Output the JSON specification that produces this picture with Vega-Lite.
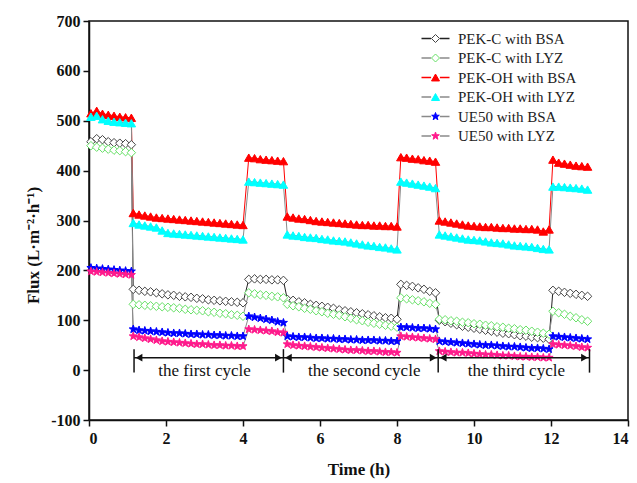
{
"$schema":"https://vega.github.io/schema/vega-lite/v6.json",
"width":539,"height":399,"autosize":"none",
"padding":{"left":89,"top":21,"right":9,"bottom":63},
"background":"white",
"config":{"view":{"stroke":"#111","strokeWidth":1.5},"font":"Liberation Serif"},
"datasets":{
"flux":[
{"s":"a","t":0.05,"f":458},{"s":"a","t":0.2,"f":464},{"s":"a","t":0.35,"f":462},{"s":"a","t":0.5,"f":458},{"s":"a","t":0.65,"f":456},{"s":"a","t":0.8,"f":455},{"s":"a","t":0.95,"f":454},{"s":"a","t":1.1,"f":452},
{"s":"a","t":1.15,"f":162},{"s":"a","t":1.3,"f":160},{"s":"a","t":1.45,"f":158},{"s":"a","t":1.6,"f":157},{"s":"a","t":1.75,"f":155},{"s":"a","t":1.9,"f":153},{"s":"a","t":2.05,"f":151},{"s":"a","t":2.2,"f":150},{"s":"a","t":2.35,"f":148},{"s":"a","t":2.5,"f":147},{"s":"a","t":2.65,"f":146},{"s":"a","t":2.8,"f":144},{"s":"a","t":2.95,"f":143},{"s":"a","t":3.1,"f":141},{"s":"a","t":3.25,"f":140},{"s":"a","t":3.4,"f":139},{"s":"a","t":3.55,"f":138},{"s":"a","t":3.7,"f":137},{"s":"a","t":3.85,"f":136},{"s":"a","t":4.0,"f":135},
{"s":"a","t":4.15,"f":182},{"s":"a","t":4.3,"f":183},{"s":"a","t":4.45,"f":182},{"s":"a","t":4.6,"f":182},{"s":"a","t":4.75,"f":181},{"s":"a","t":4.9,"f":181},{"s":"a","t":5.05,"f":180},
{"s":"a","t":5.15,"f":142},{"s":"a","t":5.3,"f":140},{"s":"a","t":5.45,"f":137},{"s":"a","t":5.6,"f":135},{"s":"a","t":5.75,"f":132},{"s":"a","t":5.9,"f":130},{"s":"a","t":6.05,"f":128},{"s":"a","t":6.2,"f":126},{"s":"a","t":6.35,"f":124},{"s":"a","t":6.5,"f":121},{"s":"a","t":6.65,"f":119},{"s":"a","t":6.8,"f":117},{"s":"a","t":6.95,"f":115},{"s":"a","t":7.1,"f":113},{"s":"a","t":7.25,"f":111},{"s":"a","t":7.4,"f":109},{"s":"a","t":7.55,"f":107},{"s":"a","t":7.7,"f":105},{"s":"a","t":7.85,"f":104},{"s":"a","t":8.0,"f":102},
{"s":"a","t":8.1,"f":172},{"s":"a","t":8.25,"f":170},{"s":"a","t":8.4,"f":168},{"s":"a","t":8.55,"f":165},{"s":"a","t":8.7,"f":162},{"s":"a","t":8.85,"f":158},{"s":"a","t":9.0,"f":155},
{"s":"a","t":9.1,"f":100},{"s":"a","t":9.25,"f":97},{"s":"a","t":9.4,"f":94},{"s":"a","t":9.55,"f":91},{"s":"a","t":9.7,"f":88},{"s":"a","t":9.85,"f":86},{"s":"a","t":10.0,"f":84},{"s":"a","t":10.15,"f":82},{"s":"a","t":10.3,"f":80},{"s":"a","t":10.45,"f":78},{"s":"a","t":10.6,"f":76},{"s":"a","t":10.75,"f":74},{"s":"a","t":10.9,"f":73},{"s":"a","t":11.05,"f":71},{"s":"a","t":11.2,"f":69},{"s":"a","t":11.35,"f":68},{"s":"a","t":11.5,"f":66},{"s":"a","t":11.65,"f":65},{"s":"a","t":11.8,"f":64},{"s":"a","t":11.95,"f":62},
{"s":"a","t":12.05,"f":160},{"s":"a","t":12.2,"f":158},{"s":"a","t":12.35,"f":156},{"s":"a","t":12.5,"f":154},{"s":"a","t":12.65,"f":152},{"s":"a","t":12.8,"f":150},{"s":"a","t":12.95,"f":148},

{"s":"b","t":0.05,"f":450},{"s":"b","t":0.2,"f":447},{"s":"b","t":0.35,"f":445},{"s":"b","t":0.5,"f":443},{"s":"b","t":0.65,"f":441},{"s":"b","t":0.8,"f":440},{"s":"b","t":0.95,"f":438},{"s":"b","t":1.1,"f":436},
{"s":"b","t":1.15,"f":132},{"s":"b","t":1.3,"f":131},{"s":"b","t":1.45,"f":130},{"s":"b","t":1.6,"f":129},{"s":"b","t":1.75,"f":128},{"s":"b","t":1.9,"f":127},{"s":"b","t":2.05,"f":126},{"s":"b","t":2.2,"f":125},{"s":"b","t":2.35,"f":124},{"s":"b","t":2.5,"f":122},{"s":"b","t":2.65,"f":121},{"s":"b","t":2.8,"f":120},{"s":"b","t":2.95,"f":119},{"s":"b","t":3.1,"f":117},{"s":"b","t":3.25,"f":116},{"s":"b","t":3.4,"f":114},{"s":"b","t":3.55,"f":113},{"s":"b","t":3.7,"f":111},{"s":"b","t":3.85,"f":110},{"s":"b","t":4.0,"f":108},
{"s":"b","t":4.15,"f":155},{"s":"b","t":4.3,"f":153},{"s":"b","t":4.45,"f":151},{"s":"b","t":4.6,"f":150},{"s":"b","t":4.75,"f":148},{"s":"b","t":4.9,"f":147},{"s":"b","t":5.05,"f":145},
{"s":"b","t":5.15,"f":132},{"s":"b","t":5.3,"f":129},{"s":"b","t":5.45,"f":127},{"s":"b","t":5.6,"f":124},{"s":"b","t":5.75,"f":122},{"s":"b","t":5.9,"f":119},{"s":"b","t":6.05,"f":117},{"s":"b","t":6.2,"f":114},{"s":"b","t":6.35,"f":112},{"s":"b","t":6.5,"f":110},{"s":"b","t":6.65,"f":107},{"s":"b","t":6.8,"f":104},{"s":"b","t":6.95,"f":101},{"s":"b","t":7.1,"f":99},{"s":"b","t":7.25,"f":96},{"s":"b","t":7.4,"f":94},{"s":"b","t":7.55,"f":92},{"s":"b","t":7.7,"f":90},{"s":"b","t":7.85,"f":88},{"s":"b","t":8.0,"f":86},
{"s":"b","t":8.1,"f":145},{"s":"b","t":8.25,"f":143},{"s":"b","t":8.4,"f":141},{"s":"b","t":8.55,"f":139},{"s":"b","t":8.7,"f":137},{"s":"b","t":8.85,"f":134},{"s":"b","t":9.0,"f":132},
{"s":"b","t":9.1,"f":102},{"s":"b","t":9.25,"f":101},{"s":"b","t":9.4,"f":99},{"s":"b","t":9.55,"f":98},{"s":"b","t":9.7,"f":96},{"s":"b","t":9.85,"f":95},{"s":"b","t":10.0,"f":93},{"s":"b","t":10.15,"f":92},{"s":"b","t":10.3,"f":90},{"s":"b","t":10.45,"f":89},{"s":"b","t":10.6,"f":87},{"s":"b","t":10.75,"f":86},{"s":"b","t":10.9,"f":84},{"s":"b","t":11.05,"f":83},{"s":"b","t":11.2,"f":81},{"s":"b","t":11.35,"f":80},{"s":"b","t":11.5,"f":78},{"s":"b","t":11.65,"f":76},{"s":"b","t":11.8,"f":74},{"s":"b","t":11.95,"f":72},
{"s":"b","t":12.05,"f":118},{"s":"b","t":12.2,"f":115},{"s":"b","t":12.35,"f":112},{"s":"b","t":12.5,"f":108},{"s":"b","t":12.65,"f":105},{"s":"b","t":12.8,"f":101},{"s":"b","t":12.95,"f":98},

{"s":"c","t":0.05,"f":515},{"s":"c","t":0.2,"f":520},{"s":"c","t":0.35,"f":514},{"s":"c","t":0.5,"f":512},{"s":"c","t":0.65,"f":510},{"s":"c","t":0.8,"f":508},{"s":"c","t":0.95,"f":507},{"s":"c","t":1.1,"f":506},
{"s":"c","t":1.15,"f":315},{"s":"c","t":1.3,"f":312},{"s":"c","t":1.45,"f":310},{"s":"c","t":1.6,"f":308},{"s":"c","t":1.75,"f":306},{"s":"c","t":1.9,"f":305},{"s":"c","t":2.05,"f":304},{"s":"c","t":2.2,"f":303},{"s":"c","t":2.35,"f":302},{"s":"c","t":2.5,"f":301},{"s":"c","t":2.65,"f":300},{"s":"c","t":2.8,"f":299},{"s":"c","t":2.95,"f":298},{"s":"c","t":3.1,"f":297},{"s":"c","t":3.25,"f":296},{"s":"c","t":3.4,"f":295},{"s":"c","t":3.55,"f":294},{"s":"c","t":3.7,"f":293},{"s":"c","t":3.85,"f":292},{"s":"c","t":4.0,"f":291},
{"s":"c","t":4.15,"f":426},{"s":"c","t":4.3,"f":425},{"s":"c","t":4.45,"f":423},{"s":"c","t":4.6,"f":422},{"s":"c","t":4.75,"f":421},{"s":"c","t":4.9,"f":420},{"s":"c","t":5.05,"f":419},
{"s":"c","t":5.15,"f":308},{"s":"c","t":5.3,"f":306},{"s":"c","t":5.45,"f":304},{"s":"c","t":5.6,"f":303},{"s":"c","t":5.75,"f":301},{"s":"c","t":5.9,"f":299},{"s":"c","t":6.05,"f":298},{"s":"c","t":6.2,"f":297},{"s":"c","t":6.35,"f":296},{"s":"c","t":6.5,"f":295},{"s":"c","t":6.65,"f":294},{"s":"c","t":6.8,"f":293},{"s":"c","t":6.95,"f":292},{"s":"c","t":7.1,"f":291},{"s":"c","t":7.25,"f":291},{"s":"c","t":7.4,"f":290},{"s":"c","t":7.55,"f":290},{"s":"c","t":7.7,"f":289},{"s":"c","t":7.85,"f":289},{"s":"c","t":8.0,"f":288},
{"s":"c","t":8.1,"f":427},{"s":"c","t":8.25,"f":426},{"s":"c","t":8.4,"f":424},{"s":"c","t":8.55,"f":423},{"s":"c","t":8.7,"f":421},{"s":"c","t":8.85,"f":420},{"s":"c","t":9.0,"f":418},
{"s":"c","t":9.1,"f":300},{"s":"c","t":9.25,"f":298},{"s":"c","t":9.4,"f":296},{"s":"c","t":9.55,"f":294},{"s":"c","t":9.7,"f":292},{"s":"c","t":9.85,"f":290},{"s":"c","t":10.0,"f":289},{"s":"c","t":10.15,"f":288},{"s":"c","t":10.3,"f":287},{"s":"c","t":10.45,"f":287},{"s":"c","t":10.6,"f":286},{"s":"c","t":10.75,"f":285},{"s":"c","t":10.9,"f":285},{"s":"c","t":11.05,"f":284},{"s":"c","t":11.2,"f":284},{"s":"c","t":11.35,"f":283},{"s":"c","t":11.5,"f":283},{"s":"c","t":11.65,"f":282},{"s":"c","t":11.8,"f":278},{"s":"c","t":11.95,"f":282},
{"s":"c","t":12.05,"f":422},{"s":"c","t":12.2,"f":416},{"s":"c","t":12.35,"f":414},{"s":"c","t":12.5,"f":412},{"s":"c","t":12.65,"f":410},{"s":"c","t":12.8,"f":409},{"s":"c","t":12.95,"f":408},

{"s":"d","t":0.05,"f":508},{"s":"d","t":0.2,"f":510},{"s":"d","t":0.35,"f":503},{"s":"d","t":0.5,"f":500},{"s":"d","t":0.65,"f":498},{"s":"d","t":0.8,"f":497},{"s":"d","t":0.95,"f":496},{"s":"d","t":1.1,"f":495},
{"s":"d","t":1.15,"f":295},{"s":"d","t":1.3,"f":292},{"s":"d","t":1.45,"f":290},{"s":"d","t":1.6,"f":288},{"s":"d","t":1.75,"f":286},{"s":"d","t":1.9,"f":280},{"s":"d","t":2.05,"f":275},{"s":"d","t":2.2,"f":274},{"s":"d","t":2.35,"f":273},{"s":"d","t":2.5,"f":272},{"s":"d","t":2.65,"f":271},{"s":"d","t":2.8,"f":270},{"s":"d","t":2.95,"f":269},{"s":"d","t":3.1,"f":268},{"s":"d","t":3.25,"f":267},{"s":"d","t":3.4,"f":266},{"s":"d","t":3.55,"f":265},{"s":"d","t":3.7,"f":264},{"s":"d","t":3.85,"f":263},{"s":"d","t":4.0,"f":262},
{"s":"d","t":4.15,"f":378},{"s":"d","t":4.3,"f":377},{"s":"d","t":4.45,"f":376},{"s":"d","t":4.6,"f":375},{"s":"d","t":4.75,"f":374},{"s":"d","t":4.9,"f":373},{"s":"d","t":5.05,"f":372},
{"s":"d","t":5.15,"f":272},{"s":"d","t":5.3,"f":270},{"s":"d","t":5.45,"f":269},{"s":"d","t":5.6,"f":267},{"s":"d","t":5.75,"f":266},{"s":"d","t":5.9,"f":265},{"s":"d","t":6.05,"f":263},{"s":"d","t":6.2,"f":262},{"s":"d","t":6.35,"f":260},{"s":"d","t":6.5,"f":259},{"s":"d","t":6.65,"f":258},{"s":"d","t":6.8,"f":256},{"s":"d","t":6.95,"f":254},{"s":"d","t":7.1,"f":252},{"s":"d","t":7.25,"f":250},{"s":"d","t":7.4,"f":249},{"s":"d","t":7.55,"f":247},{"s":"d","t":7.7,"f":246},{"s":"d","t":7.85,"f":244},{"s":"d","t":8.0,"f":242},
{"s":"d","t":8.1,"f":378},{"s":"d","t":8.25,"f":376},{"s":"d","t":8.4,"f":374},{"s":"d","t":8.55,"f":372},{"s":"d","t":8.7,"f":370},{"s":"d","t":8.85,"f":368},{"s":"d","t":9.0,"f":365},
{"s":"d","t":9.1,"f":272},{"s":"d","t":9.25,"f":270},{"s":"d","t":9.4,"f":268},{"s":"d","t":9.55,"f":266},{"s":"d","t":9.7,"f":264},{"s":"d","t":9.85,"f":262},{"s":"d","t":10.0,"f":261},{"s":"d","t":10.15,"f":260},{"s":"d","t":10.3,"f":258},{"s":"d","t":10.45,"f":256},{"s":"d","t":10.6,"f":255},{"s":"d","t":10.75,"f":254},{"s":"d","t":10.9,"f":252},{"s":"d","t":11.05,"f":250},{"s":"d","t":11.2,"f":249},{"s":"d","t":11.35,"f":248},{"s":"d","t":11.5,"f":247},{"s":"d","t":11.65,"f":245},{"s":"d","t":11.8,"f":243},{"s":"d","t":11.95,"f":242},
{"s":"d","t":12.05,"f":368},{"s":"d","t":12.2,"f":368},{"s":"d","t":12.35,"f":367},{"s":"d","t":12.5,"f":366},{"s":"d","t":12.65,"f":365},{"s":"d","t":12.8,"f":364},{"s":"d","t":12.95,"f":362},

{"s":"e","t":0.05,"f":205},{"s":"e","t":0.2,"f":204},{"s":"e","t":0.35,"f":203},{"s":"e","t":0.5,"f":202},{"s":"e","t":0.65,"f":201},{"s":"e","t":0.8,"f":200},{"s":"e","t":0.95,"f":199},{"s":"e","t":1.1,"f":198},
{"s":"e","t":1.15,"f":82},{"s":"e","t":1.3,"f":80},{"s":"e","t":1.45,"f":79},{"s":"e","t":1.6,"f":78},{"s":"e","t":1.75,"f":77},{"s":"e","t":1.9,"f":76},{"s":"e","t":2.05,"f":75},{"s":"e","t":2.2,"f":74},{"s":"e","t":2.35,"f":74},{"s":"e","t":2.5,"f":73},{"s":"e","t":2.65,"f":72},{"s":"e","t":2.8,"f":72},{"s":"e","t":2.95,"f":71},{"s":"e","t":3.1,"f":71},{"s":"e","t":3.25,"f":70},{"s":"e","t":3.4,"f":70},{"s":"e","t":3.55,"f":69},{"s":"e","t":3.7,"f":69},{"s":"e","t":3.85,"f":68},{"s":"e","t":4.0,"f":68},
{"s":"e","t":4.15,"f":108},{"s":"e","t":4.3,"f":106},{"s":"e","t":4.45,"f":104},{"s":"e","t":4.6,"f":102},{"s":"e","t":4.75,"f":100},{"s":"e","t":4.9,"f":97},{"s":"e","t":5.05,"f":95},
{"s":"e","t":5.15,"f":68},{"s":"e","t":5.3,"f":67},{"s":"e","t":5.45,"f":66},{"s":"e","t":5.6,"f":66},{"s":"e","t":5.75,"f":65},{"s":"e","t":5.9,"f":64},{"s":"e","t":6.05,"f":64},{"s":"e","t":6.2,"f":63},{"s":"e","t":6.35,"f":63},{"s":"e","t":6.5,"f":62},{"s":"e","t":6.65,"f":62},{"s":"e","t":6.8,"f":61},{"s":"e","t":6.95,"f":61},{"s":"e","t":7.1,"f":60},{"s":"e","t":7.25,"f":60},{"s":"e","t":7.4,"f":60},{"s":"e","t":7.55,"f":59},{"s":"e","t":7.7,"f":59},{"s":"e","t":7.85,"f":58},{"s":"e","t":8.0,"f":58},
{"s":"e","t":8.1,"f":86},{"s":"e","t":8.25,"f":86},{"s":"e","t":8.4,"f":85},{"s":"e","t":8.55,"f":84},{"s":"e","t":8.7,"f":84},{"s":"e","t":8.85,"f":83},{"s":"e","t":9.0,"f":82},
{"s":"e","t":9.1,"f":58},{"s":"e","t":9.25,"f":57},{"s":"e","t":9.4,"f":56},{"s":"e","t":9.55,"f":55},{"s":"e","t":9.7,"f":54},{"s":"e","t":9.85,"f":53},{"s":"e","t":10.0,"f":52},{"s":"e","t":10.15,"f":51},{"s":"e","t":10.3,"f":50},{"s":"e","t":10.45,"f":50},{"s":"e","t":10.6,"f":49},{"s":"e","t":10.75,"f":48},{"s":"e","t":10.9,"f":47},{"s":"e","t":11.05,"f":47},{"s":"e","t":11.2,"f":46},{"s":"e","t":11.35,"f":45},{"s":"e","t":11.5,"f":44},{"s":"e","t":11.65,"f":44},{"s":"e","t":11.8,"f":43},{"s":"e","t":11.95,"f":42},
{"s":"e","t":12.05,"f":68},{"s":"e","t":12.2,"f":67},{"s":"e","t":12.35,"f":66},{"s":"e","t":12.5,"f":65},{"s":"e","t":12.65,"f":64},{"s":"e","t":12.8,"f":63},{"s":"e","t":12.95,"f":62},

{"s":"f","t":0.05,"f":198},{"s":"f","t":0.2,"f":197},{"s":"f","t":0.35,"f":196},{"s":"f","t":0.5,"f":195},{"s":"f","t":0.65,"f":194},{"s":"f","t":0.8,"f":193},{"s":"f","t":0.95,"f":192},{"s":"f","t":1.1,"f":191},
{"s":"f","t":1.15,"f":68},{"s":"f","t":1.3,"f":66},{"s":"f","t":1.45,"f":64},{"s":"f","t":1.6,"f":62},{"s":"f","t":1.75,"f":60},{"s":"f","t":1.9,"f":58},{"s":"f","t":2.05,"f":57},{"s":"f","t":2.2,"f":56},{"s":"f","t":2.35,"f":55},{"s":"f","t":2.5,"f":54},{"s":"f","t":2.65,"f":53},{"s":"f","t":2.8,"f":52},{"s":"f","t":2.95,"f":52},{"s":"f","t":3.1,"f":51},{"s":"f","t":3.25,"f":50},{"s":"f","t":3.4,"f":50},{"s":"f","t":3.55,"f":49},{"s":"f","t":3.7,"f":49},{"s":"f","t":3.85,"f":48},{"s":"f","t":4.0,"f":48},
{"s":"f","t":4.15,"f":82},{"s":"f","t":4.3,"f":81},{"s":"f","t":4.45,"f":80},{"s":"f","t":4.6,"f":79},{"s":"f","t":4.75,"f":78},{"s":"f","t":4.9,"f":76},{"s":"f","t":5.05,"f":75},
{"s":"f","t":5.15,"f":52},{"s":"f","t":5.3,"f":50},{"s":"f","t":5.45,"f":49},{"s":"f","t":5.6,"f":48},{"s":"f","t":5.75,"f":47},{"s":"f","t":5.9,"f":46},{"s":"f","t":6.05,"f":45},{"s":"f","t":6.2,"f":44},{"s":"f","t":6.35,"f":43},{"s":"f","t":6.5,"f":42},{"s":"f","t":6.65,"f":41},{"s":"f","t":6.8,"f":40},{"s":"f","t":6.95,"f":40},{"s":"f","t":7.1,"f":39},{"s":"f","t":7.25,"f":38},{"s":"f","t":7.4,"f":38},{"s":"f","t":7.55,"f":37},{"s":"f","t":7.7,"f":36},{"s":"f","t":7.85,"f":36},{"s":"f","t":8.0,"f":35},
{"s":"f","t":8.1,"f":68},{"s":"f","t":8.25,"f":67},{"s":"f","t":8.4,"f":66},{"s":"f","t":8.55,"f":65},{"s":"f","t":8.7,"f":64},{"s":"f","t":8.85,"f":63},{"s":"f","t":9.0,"f":62},
{"s":"f","t":9.1,"f":38},{"s":"f","t":9.25,"f":37},{"s":"f","t":9.4,"f":36},{"s":"f","t":9.55,"f":35},{"s":"f","t":9.7,"f":35},{"s":"f","t":9.85,"f":34},{"s":"f","t":10.0,"f":33},{"s":"f","t":10.15,"f":32},{"s":"f","t":10.3,"f":31},{"s":"f","t":10.45,"f":31},{"s":"f","t":10.6,"f":30},{"s":"f","t":10.75,"f":29},{"s":"f","t":10.9,"f":29},{"s":"f","t":11.05,"f":28},{"s":"f","t":11.2,"f":27},{"s":"f","t":11.35,"f":27},{"s":"f","t":11.5,"f":26},{"s":"f","t":11.65,"f":26},{"s":"f","t":11.8,"f":25},{"s":"f","t":11.95,"f":25},
{"s":"f","t":12.05,"f":52},{"s":"f","t":12.2,"f":51},{"s":"f","t":12.35,"f":50},{"s":"f","t":12.5,"f":49},{"s":"f","t":12.65,"f":48},{"s":"f","t":12.8,"f":46},{"s":"f","t":12.95,"f":45}
],
"bars":[{"x":1.17},{"x":5.05},{"x":9.07},{"x":13.0}],
"cycles":[
{"x1":1.17,"x2":5.05,"xm":3.0,"label":"the first cycle"},
{"x1":5.05,"x2":9.07,"xm":7.15,"label":"the second cycle"},
{"x1":9.07,"x2":13.0,"xm":11.1,"label":"the third cycle"}
]
},
"layer":[
{"data":{"name":"flux"},
 "mark":{"type":"line","strokeWidth":1},
 "encoding":{
  "x":{"field":"t","type":"quantitative","scale":{"domain":[0,14],"nice":false,"zero":false},
   "axis":{"title":"Time (h)","values":[0,1,2,3,4,5,6,7,8,9,10,11,12,13,14],
    "labelExpr":"datum.value % 2 == 0 ? datum.label : ''",
    "grid":false,"domainColor":"#111","domainWidth":1.5,"tickColor":"#111","tickWidth":1.5,
    "tickSize":{"condition":{"test":"datum.value % 2 == 0","value":6},"value":4},
    "labelFont":"Liberation Serif","labelFontSize":16,"labelFontWeight":"bold","labelColor":"#111","labelPadding":4,
    "titleFont":"Liberation Serif","titleFontSize":17,"titleFontWeight":"bold","titleColor":"#111","titlePadding":15}},
  "y":{"field":"f","type":"quantitative","scale":{"domain":[-100,700],"nice":false,"zero":false},
   "axis":{"title":"Flux (L·m⁻²·h⁻¹)","values":[-100,-50,0,50,100,150,200,250,300,350,400,450,500,550,600,650,700],
    "labelExpr":"datum.value % 100 == 0 ? '' + datum.value : ''",
    "grid":false,"domainColor":"#111","domainWidth":1.5,"tickColor":"#111","tickWidth":1.5,
    "tickSize":{"condition":{"test":"datum.value % 100 == 0","value":6},"value":4},
    "labelFont":"Liberation Serif","labelFontSize":16,"labelFontWeight":"bold","labelColor":"#111","labelPadding":3,
    "titleFont":"Liberation Serif","titleFontSize":17,"titleFontWeight":"bold","titleColor":"#111","titlePadding":8,"titleY":224}},
  "color":{"field":"s","type":"nominal",
   "scale":{"domain":["a","b","c","d","e","f","z"],"range":["#222222","#8a8a8a","#ff0000","#8a8a8a","#8a8a8a","#8a8a8a","#ffffff"]},
   "legend":{"orient":"none","legendX":339,"legendY":10,"title":null,"values":["a","b","c","d","e","f"],
    "symbolType":"M-3.5,0H-1.1M1.1,0H3.5","symbolSize":64,"symbolStrokeWidth":1.3,
    "labelFontSize":15,"labelFont":"Liberation Serif","labelOpacity":0,"labelOffset":15,"rowPadding":3.5,"padding":0,
    "labelExpr":"{'a':'PEK-C with BSA','b':'PEK-C with LYZ','c':'PEK-OH with BSA','d':'PEK-OH with LYZ','e':'UE50 with BSA','f':'UE50 with LYZ'}[datum.value]"}}
 }},
{"data":{"name":"flux"},
 "mark":{"type":"point","filled":true,"opacity":1,"strokeWidth":1,"size":72},
 "encoding":{
  "x":{"field":"t","type":"quantitative"},
  "y":{"field":"f","type":"quantitative"},
  "shape":{"field":"s","type":"nominal","scale":{"domain":["a","b","c","d","e","f"],"range":["diamond","diamond","triangle-up","triangle-up","M0,-1L0.235,-0.324L0.951,-0.309L0.38,0.124L0.588,0.809L0,0.4L-0.588,0.809L-0.38,0.124L-0.951,-0.309L-0.235,-0.324Z","M0,-1L0.235,-0.324L0.951,-0.309L0.38,0.124L0.588,0.809L0,0.4L-0.588,0.809L-0.38,0.124L-0.951,-0.309L-0.235,-0.324Z"]},
   "legend":{"orient":"none","legendX":339,"legendY":10,"title":null,"symbolSize":64,"symbolStrokeWidth":1,
    "labelFontSize":15,"labelFont":"Liberation Serif","labelColor":"#222","labelOffset":15,"rowPadding":3.5,"padding":0,
    "labelExpr":"{'a':'PEK-C with BSA','b':'PEK-C with LYZ','c':'PEK-OH with BSA','d':'PEK-OH with LYZ','e':'UE50 with BSA','f':'UE50 with LYZ'}[datum.value]"}},
  "fill":{"field":"s","type":"nominal","scale":{"domain":["a","b","c","d","e","f"],"range":["#ffffff","#ffffff","#ff0000","#00ffff","#0000ff","#ff1a8c"]},
   "legend":{"orient":"none","legendX":339,"legendY":10,"title":null,"symbolSize":64,"symbolStrokeWidth":1,
    "labelFontSize":15,"labelFont":"Liberation Serif","labelColor":"#222","labelOffset":15,"rowPadding":3.5,"padding":0,
    "labelExpr":"{'a':'PEK-C with BSA','b':'PEK-C with LYZ','c':'PEK-OH with BSA','d':'PEK-OH with LYZ','e':'UE50 with BSA','f':'UE50 with LYZ'}[datum.value]"}},
  "stroke":{"field":"s","type":"nominal","scale":{"domain":["a","b","c","d","e","f"],"range":["#444444","#66e066","#ff0000","#00ffff","#0000ff","#ff1a8c"]},
   "legend":{"orient":"none","legendX":339,"legendY":10,"title":null,"symbolSize":64,"symbolStrokeWidth":1,
    "labelFontSize":15,"labelFont":"Liberation Serif","labelColor":"#222","labelOffset":15,"rowPadding":3.5,"padding":0,
    "labelExpr":"{'a':'PEK-C with BSA','b':'PEK-C with LYZ','c':'PEK-OH with BSA','d':'PEK-OH with LYZ','e':'UE50 with BSA','f':'UE50 with LYZ'}[datum.value]"}}
 }},
{"data":{"name":"bars"},
 "mark":{"type":"rule","strokeWidth":1.5,"color":"#111"},
 "encoding":{"x":{"field":"x","type":"quantitative"},"y":{"datum":-5},"y2":{"datum":42}}},
{"data":{"name":"cycles"},
 "mark":{"type":"rule","strokeWidth":1.5,"color":"#111"},
 "encoding":{"x":{"field":"x1","type":"quantitative"},"x2":{"field":"x2"},"y":{"datum":25}}},
{"data":{"name":"cycles"},
 "mark":{"type":"point","shape":"triangle-left","filled":true,"opacity":1,"color":"#111","size":60,"xOffset":5},
 "encoding":{"x":{"field":"x1","type":"quantitative"},"y":{"datum":25}}},
{"data":{"name":"cycles"},
 "mark":{"type":"point","shape":"triangle-right","filled":true,"opacity":1,"color":"#111","size":60,"xOffset":-5},
 "encoding":{"x":{"field":"x2","type":"quantitative"},"y":{"datum":25}}},
{"data":{"name":"cycles"},
 "mark":{"type":"text","font":"Liberation Serif","fontSize":17,"color":"#111","baseline":"middle","align":"center"},
 "encoding":{"x":{"field":"xm","type":"quantitative"},"y":{"datum":-2},"text":{"field":"label"}}}
]
}
